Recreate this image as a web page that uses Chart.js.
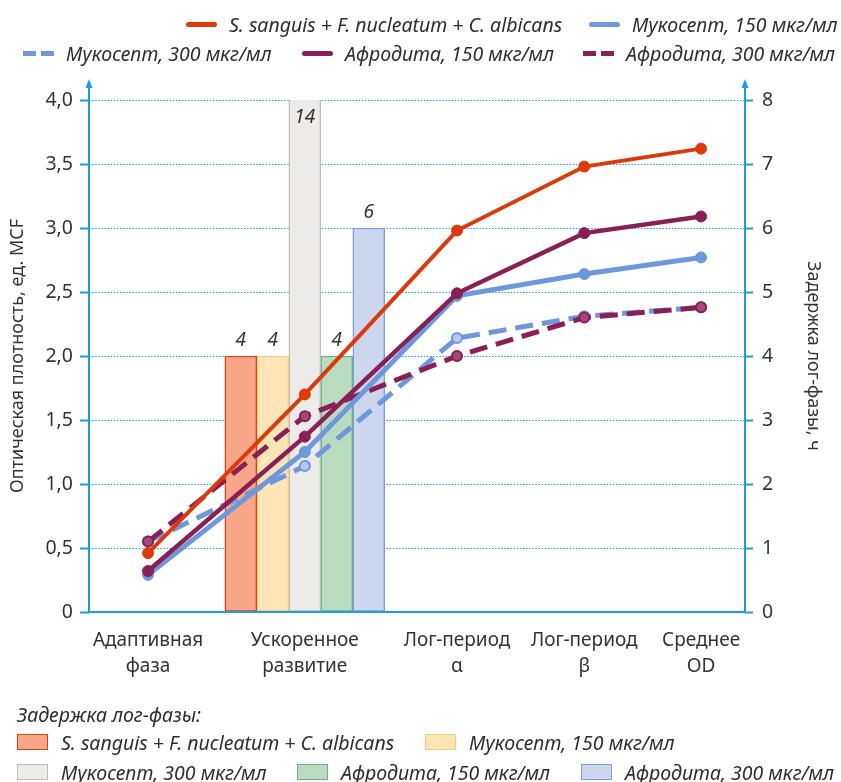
<!DOCTYPE html>
<html>
<head>
<meta charset="utf-8">
<script src="https://cdn.jsdelivr.net/npm/chart.js@4.4.1/dist/chart.umd.min.js"></script>
<style>
  body { margin: 0; background: #fff; }
  #wrap { position: relative; width: 841px; height: 782px; font-family: "Noto Sans", sans-serif; color: #2e2e2e; }
  #wrap canvas { position: absolute; left: 0; top: 0; }
  .item { position: absolute; height: 26px; display: flex; align-items: center; white-space: nowrap;
          font-style: italic; font-size: 19.5px; }
  .sample { width: 31px; height: 5px; margin-right: 12px; border-radius: 3px; flex: none; }
  .box { width: 31px; height: 16px; margin-right: 13px; box-sizing: border-box; border: 1.5px solid; flex: none; }
</style>
</head>
<body>
<div id="wrap">
  <canvas id="chart" width="841" height="782"></canvas>
  <div id="legend"></div>
</div>
<script>
// categories on x, placed on a linear axis (the stages are not evenly spaced)
const categories = [['Адаптивная', 'фаза'], ['Ускоренное', 'развитие'], ['Лог-период', 'α'], ['Лог-период', 'β'], ['Среднее', 'OD']];
const categoryX = [0.9, 3.29, 5.61, 7.55, 9.33];
const leftTicks = ['0', '0,5', '1,0', '1,5', '2,0', '2,5', '3,0', '3,5', '4,0'];
const rightTicks = ['0', '1', '2', '3', '4', '5', '6', '7', '8'];

const seriesNames = ['S. sanguis + F. nucleatum + C. albicans', 'Мукосепт, 150 мкг/мл', 'Мукосепт, 300 мкг/мл',
                     'Афродита, 150 мкг/мл', 'Афродита, 300 мкг/мл'];

// optical density, MCF units
const odMix     = [0.46, 1.70, 2.98, 3.48, 3.62];
const odMuk150  = [0.29, 1.25, 2.47, 2.64, 2.77];
const odMuk300  = [0.55, 1.14, 2.14, 2.31, 2.38];
const odAfr150  = [0.32, 1.37, 2.49, 2.96, 3.09];
const odAfr300  = [0.55, 1.53, 2.00, 2.30, 2.38];
const odSeries = [odMix, odMuk150, odMuk300, odAfr150, odAfr300];

// log-phase delay, hours (right axis)
const lagHours = [4, 4, 14, 4, 6];

const AXIS = '#1d9ddb';
const TEXT = '#333333';
const lineColors = ['#da3a0c', '#6e97dc', '#6e97dc', '#8a1f55', '#8a1f55'];
const lineDashed = [false, false, true, false, true];
const lineWidths = [4, 5, 5, 4.5, 5];
const lineOrder = [1, 3, 5, 2, 4];
const barFill = ['#f8a688', '#fee5b5', '#ecebea', '#b9dcc1', '#ccd7ef'];
const barBorder = ['#d8431c', '#f4cd7e', '#bdbdbd', '#6cb583', '#7c9edb'];

Chart.defaults.font.family = '"Noto Sans", sans-serif';
Chart.defaults.color = TEXT;

const datasets = [];
odSeries.forEach((vals, i) => {
    const dashed = lineDashed[i];
    datasets.push({
        type: 'line',
        label: seriesNames[i],
        data: vals.map((v, k) => ({x: categoryX[k], y: v})),
        yAxisID: 'y',
        borderColor: lineColors[i],
        borderWidth: lineWidths[i],
        borderDash: dashed ? [18, 9] : [],
        pointRadius: dashed ? 5 : 5.5,
        pointBorderWidth: dashed ? 2 : 1,
        pointBorderColor: lineColors[i],
        pointBackgroundColor: dashed ? (i === 2 ? '#b3c8ec' : '#a3497a') : lineColors[i],
        tension: 0,
        order: lineOrder[i],
    });
});
lagHours.forEach((h, i) => {
    datasets.push({
        type: 'bar',
        label: seriesNames[i],
        data: [{x: categoryX[1], y: h}],
        yAxisID: 'y1',
        backgroundColor: barFill[i],
        borderColor: barBorder[i],
        borderWidth: 1.5,
        borderSkipped: false,
        barThickness: 32,
        clip: 0,
        order: 10,
    });
});

// value labels over the delay bars (clipped bar gets its label inside)
const barLabels = {
    id: 'barLabels',
    afterDatasetsDraw(chart) {
        const {ctx, chartArea} = chart;
        ctx.save();
        ctx.font = 'italic 19px "Noto Sans", sans-serif';
        ctx.fillStyle = TEXT;
        ctx.textAlign = 'center';
        ctx.textBaseline = 'middle';
        chart.data.datasets.forEach((ds, i) => {
            if (ds.type !== 'bar') return;
            const el = chart.getDatasetMeta(i).data[0];
            const txt = String(ds.data[0].y);
            if (el.y < chartArea.top) ctx.fillText(txt, el.x, chartArea.top + 18);
            else ctx.fillText(txt, el.x, el.y - 15);
        });
        ctx.restore();
    }
};

// axis lines with arrow heads above the plot
const axisArrows = {
    id: 'axisArrows',
    afterDatasetsDraw(chart) {
        const {ctx, chartArea: a} = chart;
        ctx.save();
        ctx.strokeStyle = AXIS;
        ctx.fillStyle = AXIS;
        ctx.lineWidth = 2;
        ctx.beginPath();
        ctx.moveTo(a.left, a.bottom); ctx.lineTo(a.left, a.top - 14);
        ctx.moveTo(a.right, a.bottom); ctx.lineTo(a.right, a.top - 14);
        ctx.moveTo(a.left, a.bottom); ctx.lineTo(a.right, a.bottom);
        ctx.stroke();
        [a.left, a.right].forEach(x => {
            ctx.beginPath();
            ctx.moveTo(x, a.top - 21);
            ctx.lineTo(x - 3.5, a.top - 12);
            ctx.lineTo(x + 3.5, a.top - 12);
            ctx.closePath();
            ctx.fill();
        });
        ctx.restore();
    }
};

new Chart(document.getElementById('chart'), {
    data: { datasets: datasets },
    options: {
        responsive: false,
        animation: false,
        layout: { padding: { top: 100, left: 0, right: 0, bottom: 0 } },
        plugins: { legend: { display: false }, tooltip: { enabled: false } },
        scales: {
            x: {
                type: 'linear',
                min: 0,
                max: 10,
                offset: false,
                afterBuildTicks: s => { s.ticks = categoryX.map(v => ({value: v})); },
                afterFit: s => { s.height = 170; },
                grid: { display: false, offset: false },
                border: { display: false },
                ticks: {
                    autoSkip: false,
                    maxRotation: 0,
                    padding: 8,
                    font: { size: 19, lineHeight: 1.35 },
                    color: TEXT,
                    callback: (v, i) => categories[i],
                },
            },
            y: {
                position: 'left',
                min: 0,
                max: 4,
                afterBuildTicks: s => { s.ticks = leftTicks.map((t, i) => ({value: i * 0.5})); },
                afterFit: s => { s.width = 89; },
                grid: {
                    color: AXIS,
                    lineWidth: 1,
                    tickColor: AXIS,
                    tickWidth: 2,
                    tickLength: 9,
                },
                border: { display: false, dash: [1.5, 1.6] },
                ticks: { padding: 7, font: { size: 19.5 }, color: TEXT, callback: (v, i) => leftTicks[i] },
                title: {
                    display: true,
                    text: 'Оптическая плотность, ед. MCF',
                    font: { size: 18 },
                    color: TEXT,
                    padding: { top: 7, bottom: 0 },
                },
            },
            y1: {
                position: 'right',
                min: 0,
                max: 8,
                afterBuildTicks: s => { s.ticks = rightTicks.map((t, i) => ({value: i})); },
                afterFit: s => { s.width = 96; },
                grid: {
                    drawOnChartArea: false,
                    tickColor: AXIS,
                    tickWidth: 2,
                    tickLength: 8,
                },
                border: { display: false },
                ticks: { padding: 9, font: { size: 19.5 }, color: TEXT, callback: (v, i) => rightTicks[i] },
                title: {
                    display: true,
                    text: 'Задержка лог-фазы, ч',
                    font: { size: 18 },
                    color: TEXT,
                    padding: { top: 17, bottom: 0 },
                },
            },
        },
    },
    plugins: [barLabels, axisArrows],
});

// legends (lines on top, bars at the bottom)
const legend = document.getElementById('legend');
const topLeft = [186, 589, 23, 302, 583];
const topMid = [24, 24, 53, 53, 53];
const botLeft = [17, 425, 17, 297, 581];
const botMid = [742, 742, 772, 772, 772];

function addItem(left, mid, marker, text) {
    const d = document.createElement('div');
    d.className = 'item';
    d.style.left = left + 'px';
    d.style.top = (mid - 13) + 'px';
    d.appendChild(marker);
    d.appendChild(document.createTextNode(text));
    legend.appendChild(d);
}

seriesNames.forEach((name, i) => {
    const s = document.createElement('span');
    s.className = 'sample';
    if (lineDashed[i]) {
        s.style.borderRadius = '0';
        s.style.background = `repeating-linear-gradient(90deg, ${lineColors[i]} 0 13px, transparent 13px 18px)`;
    } else {
        s.style.background = lineColors[i];
    }
    addItem(topLeft[i], topMid[i], s, name);

    const b = document.createElement('span');
    b.className = 'box';
    b.style.background = barFill[i];
    b.style.borderColor = barBorder[i];
    addItem(botLeft[i], botMid[i], b, name);
});

const cap = document.createElement('div');
cap.className = 'item';
cap.style.left = '17px';
cap.style.top = (714 - 13) + 'px';
cap.textContent = 'Задержка лог-фазы:';
legend.appendChild(cap);
</script>
</body>
</html>
